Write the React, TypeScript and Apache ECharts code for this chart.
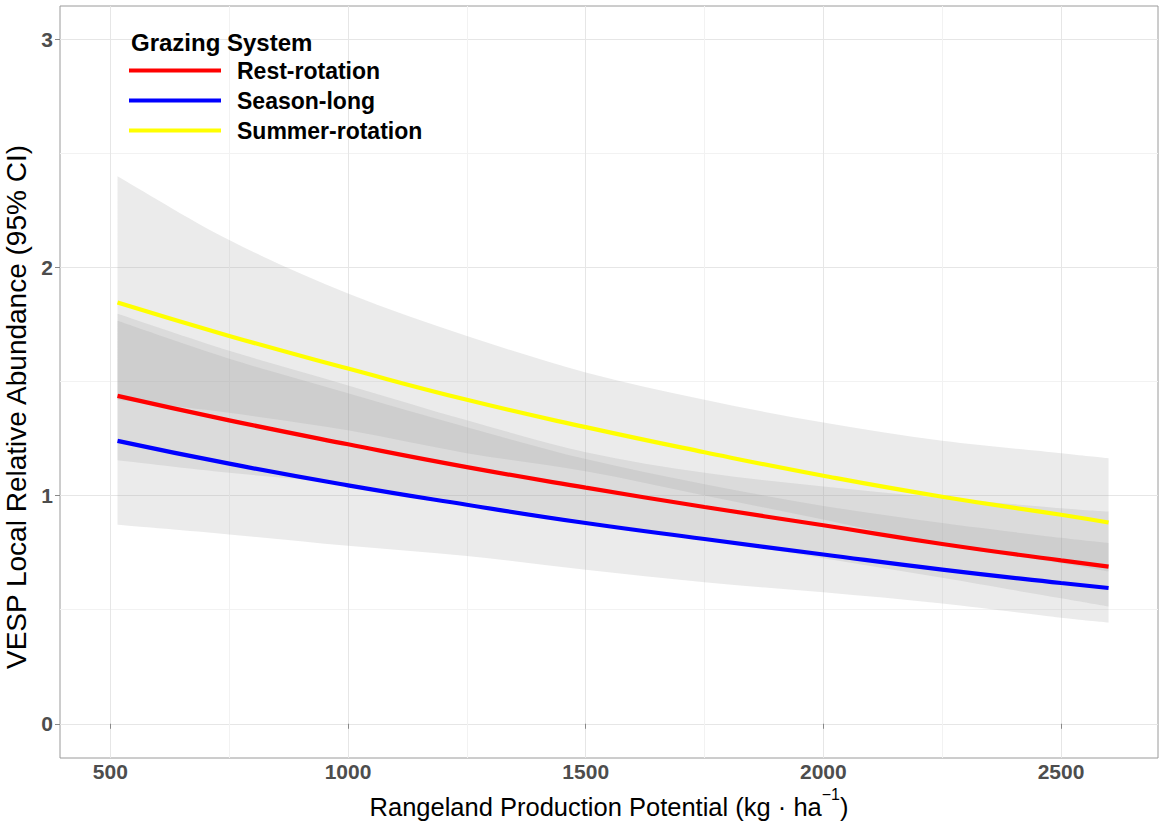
import React, { useEffect, useRef } from "react";
import * as echarts from "echarts";

// Rangeland production potential (kg/ha) at which the fitted curves are read
const xValues = [515, 750, 1000, 1250, 1500, 1750, 2000, 2250, 2500, 2600];

// Fitted VESP local relative abundance per grazing system
const restRotation = [1.437, 1.33, 1.225, 1.125, 1.035, 0.95, 0.87, 0.788, 0.716, 0.689];
const seasonLong = [1.24, 1.14, 1.045, 0.96, 0.88, 0.81, 0.742, 0.676, 0.617, 0.595];
const summerRotation = [1.846, 1.7, 1.557, 1.42, 1.3, 1.19, 1.087, 0.995, 0.916, 0.882];

// 95% confidence bounds
const restLower = [1.155, 1.1, 1.05, 0.97, 0.89, 0.81, 0.725, 0.64, 0.55, 0.514];
const restUpper = [1.797, 1.635, 1.483, 1.33, 1.19, 1.1, 1.04, 0.99, 0.945, 0.93];
const seasonLower = [0.872, 0.83, 0.78, 0.735, 0.675, 0.62, 0.576, 0.527, 0.465, 0.444];
const seasonUpper = [1.766, 1.6, 1.449, 1.3, 1.16, 1.05, 0.955, 0.88, 0.815, 0.792];
const summerLower = [1.42, 1.363, 1.286, 1.186, 1.107, 1.001, 0.895, 0.784, 0.704, 0.668];
const summerUpper = [2.4, 2.12, 1.886, 1.7, 1.54, 1.42, 1.32, 1.24, 1.186, 1.164];

// Axis breaks
const xTicks = [500, 1000, 1500, 2000, 2500];
const xMinorTicks = [750, 1250, 1750, 2250];
const yTicks = [0, 1, 2, 3];
const yMinorTicks = [0.5, 1.5, 2.5];

const FONT = "'Liberation Sans', Arial, Helvetica, sans-serif";
const BAND_FILL = "rgba(153,153,153,0.2)";

const systems = [
  { name: "Rest-rotation", color: "#ff0000", fit: restRotation, lo: restLower, hi: restUpper },
  { name: "Season-long", color: "#0000ff", fit: seasonLong, lo: seasonLower, hi: seasonUpper },
  { name: "Summer-rotation", color: "#ffff00", fit: summerRotation, lo: summerLower, hi: summerUpper },
];

type Pt = number[];

// Catmull-Rom spline through pixel points, as cubic Bezier commands
function splineSegments(pts: Pt[]): string {
  let d = "";
  for (let i = 0; i < pts.length - 1; i++) {
    const p0 = pts[Math.max(i - 1, 0)];
    const p1 = pts[i];
    const p2 = pts[i + 1];
    const p3 = pts[Math.min(i + 2, pts.length - 1)];
    const c1x = p1[0] + (p2[0] - p0[0]) / 6;
    const c1y = p1[1] + (p2[1] - p0[1]) / 6;
    const c2x = p2[0] - (p3[0] - p1[0]) / 6;
    const c2y = p2[1] - (p3[1] - p1[1]) / 6;
    d += ` C${c1x},${c1y} ${c2x},${c2y} ${p2[0]},${p2[1]}`;
  }
  return d;
}

// Confidence ribbon: one closed shape from the upper bound back along the lower bound
function ribbonSeries(lo: number[], hi: number[]) {
  return {
    type: "custom",
    silent: true,
    data: xValues.map((x, i) => [x, lo[i], hi[i]]),
    encode: { x: 0, y: [1, 2] },
    renderItem: (params: any, api: any) => {
      if (params.dataIndex !== 0) return null;
      const upper = xValues.map((x, i) => api.coord([x, hi[i]]));
      const lower = xValues.map((x, i) => api.coord([x, lo[i]])).reverse();
      const d =
        `M${upper[0][0]},${upper[0][1]}` +
        splineSegments(upper) +
        ` L${lower[0][0]},${lower[0][1]}` +
        splineSegments(lower) +
        " Z";
      return {
        type: "path",
        shape: { pathData: d },
        style: { fill: BAND_FILL, stroke: "none" },
      };
    },
  };
}

function buildOption(): echarts.EChartsOption {
  const bands = [systems[2], systems[0], systems[1]].map((s) => ribbonSeries(s.lo, s.hi));

  const lines = systems.map((s) => ({
    name: s.name,
    type: "line",
    data: xValues.map((x, i) => [x, s.fit[i]]),
    symbol: "none",
    smooth: true,
    lineStyle: { color: s.color, width: 4.2 },
    itemStyle: { color: s.color },
  }));

  const tickLabel = {
    fontFamily: FONT,
    fontSize: 21,
    fontWeight: "bold" as const,
    color: "#4d4d4d",
    formatter: (v: number) => String(v),
  };

  return {
    animation: false,
    backgroundColor: "#ffffff",
    grid: {
      left: 60,
      right: 2,
      top: 6,
      bottom: 65,
      outerBoundsMode: "none",
      containLabel: false,
      show: true,
      borderColor: "#9a9a9a",
      borderWidth: 1,
      backgroundColor: "#ffffff",
    },
    title: {
      text: "Grazing System",
      left: 131,
      top: 30,
      padding: 0,
      textStyle: { fontFamily: FONT, fontSize: 24, fontWeight: "bold", color: "#000000" },
    },
    legend: {
      data: systems.map((s) => s.name),
      orient: "vertical",
      left: 129,
      top: 59,
      padding: 0,
      itemGap: 7,
      itemWidth: 92,
      itemHeight: 4,
      icon: "rect",
      selectedMode: false,
      textStyle: {
        fontFamily: FONT,
        fontSize: 23,
        fontWeight: "bold",
        color: "#000000",
        lineHeight: 23,
        padding: [0, 0, 0, 11],
      },
    },
    xAxis: [
      {
        type: "value",
        min: 394,
        max: 2704,
        position: "bottom",
        axisLine: { show: false },
        axisTick: { show: true, length: 5, lineStyle: { color: "#888888" }, customValues: xTicks },
        axisLabel: { ...tickLabel, margin: 3, customValues: xTicks },
        splitLine: { show: true, lineStyle: { color: "#e6e6e6", width: 1 } },
        name: "Rangeland Production Potential (kg · ha{sup|−1})",
        nameLocation: "middle",
        nameGap: 16,
        nameTextStyle: {
          fontFamily: FONT,
          fontSize: 25.5,
          color: "#000000",
          lineHeight: 40,
          rich: {
            sup: { fontFamily: FONT, fontSize: 16, lineHeight: 16, verticalAlign: "top", color: "#000000" },
          },
        },
      },
      {
        type: "value",
        min: 394,
        max: 2704,
        position: "top",
        axisLine: { show: false },
        axisTick: { show: false, customValues: xMinorTicks },
        axisLabel: { show: false },
        splitLine: { show: true, lineStyle: { color: "#f2f2f2", width: 1 } },
      },
    ],
    yAxis: [
      {
        type: "value",
        min: -0.15,
        max: 3.146,
        axisLine: { show: false },
        axisTick: { show: true, length: 5, lineStyle: { color: "#888888" }, customValues: yTicks },
        axisLabel: { ...tickLabel, margin: 7, customValues: yTicks },
        splitLine: { show: true, lineStyle: { color: "#e6e6e6", width: 1 } },
        name: "VESP Local Relative Abundance (95% CI)",
        nameLocation: "middle",
        nameRotate: 90,
        nameGap: 27,
        nameTextStyle: {
          fontFamily: FONT,
          fontSize: 28,
          color: "#000000",
          lineHeight: 28,
          padding: [0, 50, 0, 0],
        },
      },
      {
        type: "value",
        min: -0.15,
        max: 3.146,
        position: "right",
        axisLine: { show: false },
        axisTick: { show: false, customValues: yMinorTicks },
        axisLabel: { show: false },
        splitLine: { show: true, lineStyle: { color: "#f2f2f2", width: 1 } },
      },
    ],
    series: [...bands, ...lines],
  } as echarts.EChartsOption;
}

export default function App() {
  const ref = useRef<HTMLDivElement>(null);

  useEffect(() => {
    if (!ref.current) return;
    const chart = echarts.init(ref.current, undefined, { renderer: "svg" });
    chart.setOption(buildOption());
    return () => {
      chart.dispose();
    };
  }, []);

  return (
    <div
      ref={ref}
      style={{ position: "absolute", left: 0, top: 0, width: 1160, height: 823, background: "#ffffff" }}
    />
  );
}
